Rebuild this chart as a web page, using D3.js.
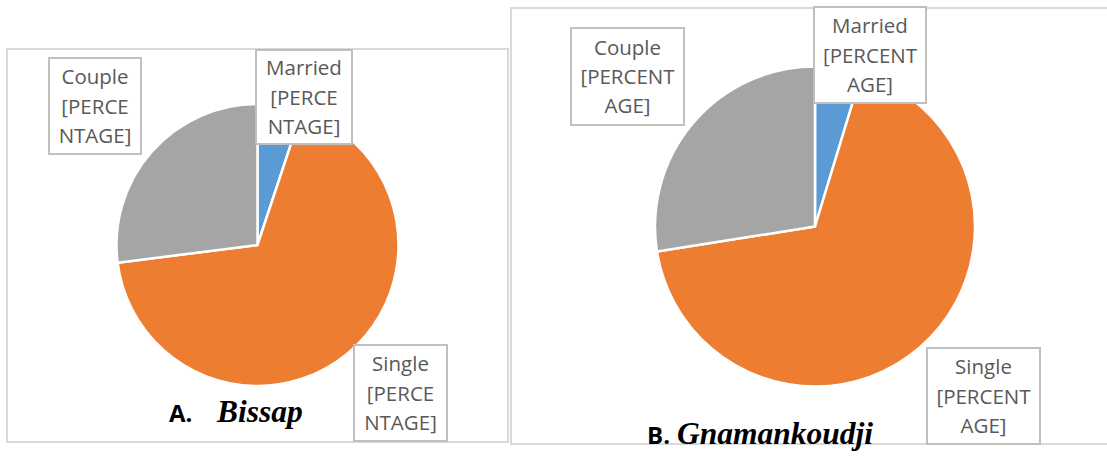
<!DOCTYPE html>
<html>
<head>
<meta charset="utf-8">
<script src="https://cdn.jsdelivr.net/npm/d3@7"></script>
<style>
  html, body { margin: 0; padding: 0; background: #ffffff; }
  svg { display: block; }
</style>
</head>
<body>
<svg id="chart" width="1107" height="457"></svg>
<script>
// ---- data ----
const categories = ["Married", "Single", "Couple"];
const valuesA = [5.1, 67.9, 27.0];   // Bissap
const valuesB = [4.7, 67.8, 27.5];   // Gnamankoudji
const labelLinesA = [["Married", "[PERCE", "NTAGE]"], ["Single", "[PERCE", "NTAGE]"], ["Couple", "[PERCE", "NTAGE]"]];
const labelLinesB = [["Married", "[PERCENT", "AGE]"], ["Single", "[PERCENT", "AGE]"], ["Couple", "[PERCENT", "AGE]"]];
const titlesPrefix = ["A.", "B."];
const titlesName = ["Bissap", "Gnamankoudji"];
const colors = ["#5B9BD5", "#ED7D31", "#A5A5A5"];

// ---- layout ----
const panels = [
  { frame: [7, 49, 508, 442], cx: 257.5, cy: 245, r: 141,
    boxes: [[256, 50, 352, 144], [354, 345, 447, 441], [49, 58, 141, 154]],
    prefixX: 169, nameX: 217, titleY: 422,
    values: valuesA, lines: labelLinesA },
  { frame: [511, 8, 1120, 444], cx: 815, cy: 226.5, r: 160,
    boxes: [[814, 7, 926, 103], [927, 348, 1040, 444], [571, 28, 684, 125]],
    prefixX: 647, nameX: 677, titleY: 444,
    values: valuesB, lines: labelLinesB }
];

const svg = d3.select("#chart");
const color = d3.scaleOrdinal().domain(categories).range(colors);
const pie = d3.pie().sort(null).value(d => d.value);

panels.forEach((p, pi) => {
  const g = svg.append("g");
  // frame
  const [fx0, fy0, fx1, fy1] = p.frame;
  g.append("rect")
    .attr("x", fx0).attr("y", fy0)
    .attr("width", fx1 - fx0).attr("height", fy1 - fy0)
    .attr("fill", "#ffffff").attr("stroke", "#d9d9d9").attr("stroke-width", 2);

  // pie
  const data = categories.map((c, i) => ({ cat: c, value: p.values[i], lines: p.lines[i] }));
  const arcs = pie(data);
  const arc = d3.arc().innerRadius(0).outerRadius(p.r);
  g.append("g").attr("transform", `translate(${p.cx},${p.cy})`)
    .selectAll("path").data(arcs).join("path")
    .attr("d", arc)
    .attr("fill", d => color(d.data.cat))
    .attr("stroke", "#ffffff").attr("stroke-width", 2.5).attr("stroke-linejoin", "round");

  // data label boxes
  const lbl = g.append("g").selectAll("g").data(arcs).join("g");
  lbl.append("rect")
    .attr("x", (d, i) => p.boxes[i][0]).attr("y", (d, i) => p.boxes[i][1])
    .attr("width", (d, i) => p.boxes[i][2] - p.boxes[i][0])
    .attr("height", (d, i) => p.boxes[i][3] - p.boxes[i][1])
    .attr("fill", "#ffffff").attr("stroke", "#bfbfbf").attr("stroke-width", 2);
  lbl.each(function(d, i) {
    const b = p.boxes[i];
    const cxb = (b[0] + b[2]) / 2;
    const h = b[3] - b[1];
    const lh = 29.3;
    const base0 = b[1] + h / 2 - lh + 7.5;
    d3.select(this).selectAll("text").data(d.data.lines).join("text")
      .attr("x", cxb).attr("y", (t, k) => base0 + k * lh)
      .attr("text-anchor", "middle")
      .attr("font-family", "'Open Sans', sans-serif")
      .attr("font-size", 20.5)
      .attr("fill", "#595959")
      .text(t => t);
  });

  // title
  const t = g.append("text").attr("y", p.titleY).attr("fill", "#000000");
  t.append("tspan").attr("x", p.prefixX)
    .attr("font-family", "'Open Sans', sans-serif").attr("font-weight", "bold")
    .style("font-size", "24px")
    .text(titlesPrefix[pi]);
  t.append("tspan").attr("x", p.nameX)
    .attr("font-family", "'Liberation Serif', 'Times New Roman', serif")
    .attr("font-weight", "bold").attr("font-style", "italic")
    .style("font-size", "31.5px")
    .text(titlesName[pi]);
});
</script>
</body>
</html>
